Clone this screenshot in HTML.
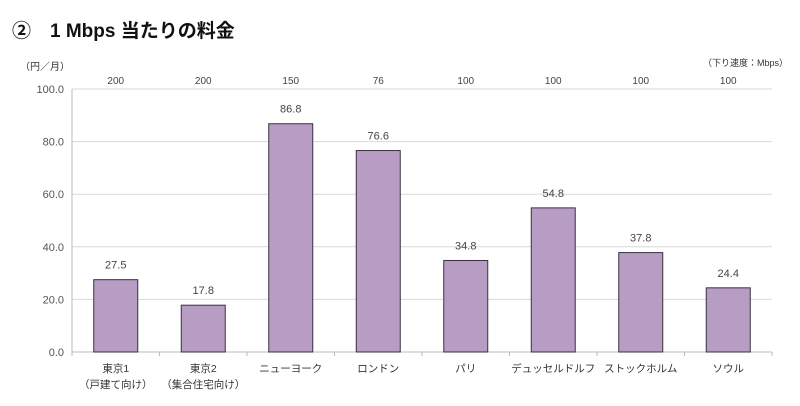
<!DOCTYPE html>
<html><head><meta charset="utf-8"><style>
body{margin:0;background:#fff;width:800px;height:401px;overflow:hidden;font-family:"Liberation Sans","Noto Sans CJK JP",sans-serif;}
svg text{font-family:"Liberation Sans","Noto Sans CJK JP",sans-serif;}
</style></head><body>
<svg id="c" width="800" height="401" xmlns="http://www.w3.org/2000/svg">
<text x="12" y="37" font-size="19" font-weight="bold" fill="#111">②　1 Mbps 当たりの料金</text>
<text x="20" y="70" font-size="10" fill="#333">（円／月）</text>
<text x="788" y="66" font-size="9" fill="#333" text-anchor="end">（下り速度：Mbps）</text>
<g id="grid"></g><g id="bars"></g><g id="labels"></g>
</svg>
<script>
const categories1=["東京1","東京2","ニューヨーク","ロンドン","パリ","デュッセルドルフ","ストックホルム","ソウル"];
const categories2=["（戸建て向け）","（集合住宅向け）","","","","","",""];
const prices=[27.5,17.8,86.8,76.6,34.8,54.8,37.8,24.4];
const speeds=[200,200,150,76,100,100,100,100];
const yTicks=[0,20,40,60,80,100];
const NS="http://www.w3.org/2000/svg";
const x0=72,x1=772,yTop=89,yBot=352,yMax=100;
const bw=(x1-x0)/categories1.length;
const y=v=>yBot-(v/yMax)*(yBot-yTop);
const cx=i=>x0+bw*(i+0.5);
function mk(tag,attrs,parent,txt){const e=document.createElementNS(NS,tag);for(const k in attrs)e.setAttribute(k,attrs[k]);if(txt!==undefined)e.textContent=txt;document.getElementById(parent).appendChild(e);return e;}
yTicks.forEach(t=>{
  const l=mk('line',{x1:x0,x2:x1,y1:y(t),y2:y(t),stroke:t===0?'#bbb':'#d8d8d8','stroke-width':1},'grid');
  
  
  const tx=mk('text',{x:x0-8,y:y(t)+4,'font-size':11,fill:'#555','text-anchor':'end'},'grid',t.toFixed(1));
  
  
});
const ax=mk('line',{x1:x0,x2:x0,y1:yTop,y2:yBot,stroke:'#bbb'},'grid');


for(let i=0;i<=categories1.length;i++){
  const tk=mk('line',{x1:x0+bw*i,x2:x0+bw*i,y1:yBot,y2:yBot+4,stroke:'#bbb'},'grid');
  
  
}
prices.forEach((v,i)=>{
  const r=mk('rect',{x:cx(i)-22,y:y(v),width:44,height:yBot-y(v),fill:'#b79cc3',stroke:'#3a3040','stroke-width':1},'bars');
  
  
  const t=mk('text',{x:cx(i),y:y(v)-11,'font-size':11,fill:'#444','text-anchor':'middle'},'labels',v.toFixed(1));
  
  
  const s=mk('text',{x:cx(i),y:84,'font-size':10,fill:'#444','text-anchor':'middle'},'labels',String(speeds[i]));
  
  
  const c=mk('text',{x:cx(i),y:372,'font-size':10.5,fill:'#333','text-anchor':'middle'},'labels',categories1[i]);
  
  
  if(categories2[i]){
    const c2=mk('text',{x:cx(i),y:388,'font-size':10.5,fill:'#333','text-anchor':'middle'},'labels',categories2[i]);
    
    
  }
});
</script>
</body></html>
